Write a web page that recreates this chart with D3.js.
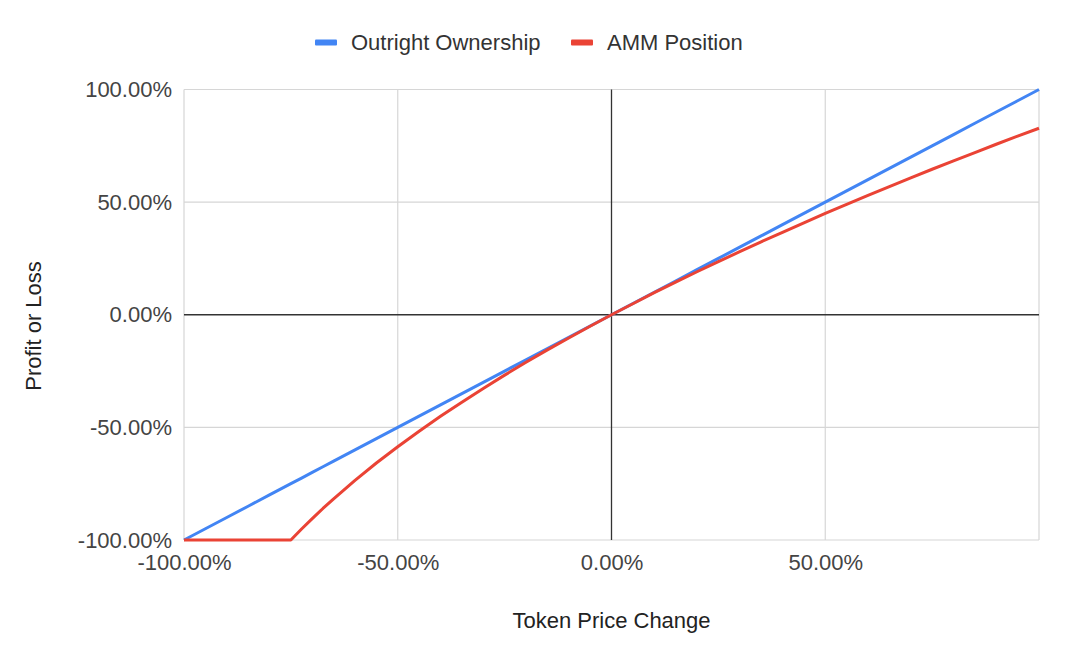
<!DOCTYPE html>
<html><head><meta charset="utf-8">
<script src="https://cdn.jsdelivr.net/npm/d3@7"></script>
<style>body{margin:0;background:#fff;font-family:"Liberation Sans",Arial,sans-serif}</style>
</head><body><svg id="c" width="1080" height="656"></svg>
<script>
const priceChange = [-100,-95,-90,-85,-80,-75,-72.5,-70,-67.5,-65,-60,-55,-50,-45,-40,-35,-30,-25,-20,-15,-10,-5,0,5,10,15,20,25,30,35,40,45,50,55,60,65,70,75,80,85,90,95,100];
const outright = [-100,-95,-90,-85,-80,-75,-72.5,-70,-67.5,-65,-60,-55,-50,-45,-40,-35,-30,-25,-20,-15,-10,-5,0,5,10,15,20,25,30,35,40,45,50,55,60,65,70,75,80,85,90,95,100];
const amm = [-100,-100,-100,-100,-100,-100,-95.1,-90.5,-86.0,-81.7,-73.5,-65.8,-58.6,-51.7,-45.1,-38.8,-32.7,-26.8,-21.1,-15.6,-10.3,-5.1,0,4.9,9.8,14.5,19.1,23.6,28.0,32.4,36.6,40.8,45.0,49.0,53.0,56.9,60.8,64.6,68.3,72.0,75.7,79.3,82.8];
const xTicks = [-100,-50,0,50];
const yTicks = [-100,-50,0,50,100];
const seriesNames = ["Outright Ownership","AMM Position"];
const colors = ["#4285F4","#EA4335"];

const FONT = '"Liberation Sans",Arial,sans-serif';
const FS = 22;
const svg = d3.select("#c");
const L=184,R=1039,T=89.5,B=540;
const x = d3.scaleLinear().domain([-100,100]).range([L,R]);
const y = d3.scaleLinear().domain([-100,100]).range([B,T]);
const fmt = v => v.toFixed(2)+"%";

// grid
const g = svg.append("g");
[-100,-50,50,100].forEach(v=>g.append("line").attr("x1",x(v)).attr("x2",x(v)).attr("y1",T).attr("y2",B).attr("stroke","#d6d6d6").attr("stroke-width",1.2));
[-100,-50,50,100].forEach(v=>g.append("line").attr("x1",L).attr("x2",R).attr("y1",y(v)).attr("y2",y(v)).attr("stroke","#d6d6d6").attr("stroke-width",1.2));
g.append("line").attr("x1",x(0)).attr("x2",x(0)).attr("y1",T).attr("y2",B).attr("stroke","#333").attr("stroke-width",1.3);
g.append("line").attr("x1",L).attr("x2",R).attr("y1",y(0)).attr("y2",y(0)).attr("stroke","#333").attr("stroke-width",1.3);

// axes labels
const yAxis = d3.axisLeft(y).tickValues(yTicks).tickFormat(fmt).tickSize(0).tickPadding(12);
const ya = svg.append("g").attr("transform",`translate(${L},0)`).call(yAxis);
const xAxis = d3.axisBottom(x).tickValues(xTicks).tickFormat(fmt).tickSize(0).tickPadding(14);
const xa = svg.append("g").attr("transform",`translate(0,${B})`).call(xAxis);
[ya,xa].forEach(a=>{a.select(".domain").remove();a.selectAll("text").attr("font-family",FONT).attr("font-size",FS).attr("fill","#444");});

// lines
const line = d3.line().x((d,i)=>x(priceChange[i])).y(d=>y(d));
[outright,amm].forEach((s,k)=>svg.append("path").datum(s).attr("d",line).attr("fill","none").attr("stroke",colors[k]).attr("stroke-width",3).attr("stroke-linejoin","round"));

// axis titles
svg.append("text").attr("x",x(0)).attr("y",628).attr("text-anchor","middle").attr("font-family",FONT).attr("font-size",FS).attr("fill","#222").text("Token Price Change");
svg.append("text").attr("transform","translate(41,326) rotate(-90)").attr("text-anchor","middle").attr("font-family",FONT).attr("font-size",FS).attr("fill","#222").text("Profit or Loss");

// legend
const legX=[315,571];
seriesNames.forEach((n,k)=>{
  svg.append("rect").attr("x",legX[k]).attr("y",39.5).attr("width",22).attr("height",6).attr("rx",1).attr("fill",colors[k]);
  svg.append("text").attr("x",legX[k]+36).attr("y",50).attr("font-family",FONT).attr("font-size",FS).attr("fill","#333").text(n);
});
</script></body></html>
